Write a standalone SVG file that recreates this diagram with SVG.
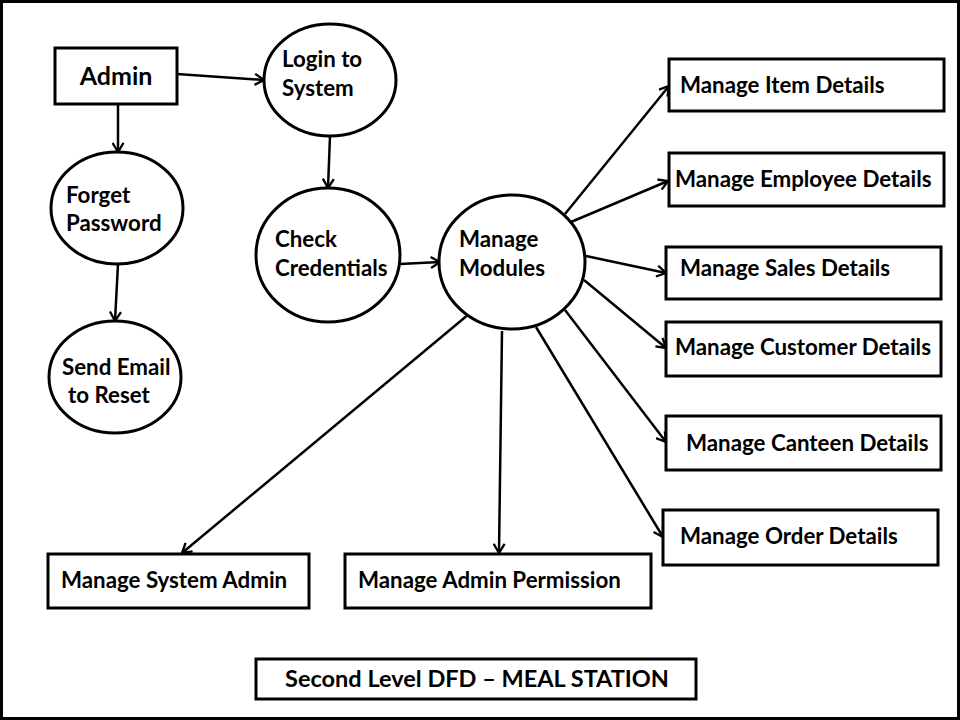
<svg xmlns="http://www.w3.org/2000/svg" width="960" height="720" viewBox="0 0 960 720">
<style>
  .shape { fill: #fff; stroke: #000; stroke-width: 3; }
  .conn line { stroke: #000; stroke-width: 2.5; marker-end: url(#arr); }
  text { font-family: Lato, "Open Sans", "Liberation Sans", sans-serif; font-weight: bold; font-size: 22.3px; fill: #000; }
  text.big { font-size: 25px; }
  text.ttl { font-size: 23.5px; }
</style>
<defs>
  <marker id="arr" viewBox="0 0 12 14" refX="11" refY="7" markerWidth="11" markerHeight="13" orient="auto" markerUnits="userSpaceOnUse">
    <path d="M1,1 L11,7 L1,13" fill="none" stroke="#000" stroke-width="2.5" stroke-linejoin="miter"/>
  </marker>
</defs>
<rect x="0" y="0" width="960" height="720" fill="#fff"/>
<rect x="1.5" y="1.5" width="957" height="717" fill="none" stroke="#000" stroke-width="3"/>

<g id="connectors" class="conn">
  <line x1="177" y1="74" x2="264" y2="80"/>
  <line x1="118" y1="104" x2="118" y2="152"/>
  <line x1="118" y1="264" x2="115" y2="321"/>
  <line x1="330" y1="136" x2="328" y2="188"/>
  <line x1="400" y1="264" x2="440" y2="262"/>
  <line x1="565" y1="214" x2="669" y2="86"/>
  <line x1="571" y1="222" x2="668" y2="181"/>
  <line x1="586" y1="256" x2="666" y2="273"/>
  <line x1="584" y1="280" x2="666" y2="348"/>
  <line x1="565" y1="310" x2="666" y2="442"/>
  <line x1="536" y1="327" x2="663" y2="537"/>
  <line x1="469" y1="314" x2="182" y2="553"/>
  <line x1="502" y1="331" x2="499" y2="553"/>
</g>

<g id="admin">
  <rect class="shape" x="55" y="48" width="122" height="56"/>
  <text class="big" x="116" y="85" text-anchor="middle">Admin</text>
</g>
<g id="login">
  <ellipse class="shape" cx="330" cy="80" rx="66" ry="56"/>
  <text x="282" y="67">Login to</text>
  <text x="282" y="96">System</text>
</g>
<g id="forget">
  <ellipse class="shape" cx="117" cy="208" rx="66" ry="56"/>
  <text x="66" y="203">Forget</text>
  <text x="66" y="231">Password</text>
</g>
<g id="sendemail">
  <ellipse class="shape" cx="115" cy="377" rx="66" ry="56"/>
  <text x="62" y="375">Send Email</text>
  <text x="68" y="403">to Reset</text>
</g>
<g id="check">
  <ellipse class="shape" cx="328" cy="255" rx="72" ry="67"/>
  <text x="275" y="247">Check</text>
  <text x="275" y="276">Credentials</text>
</g>
<g id="modules">
  <ellipse class="shape" cx="512" cy="262" rx="73" ry="67"/>
  <text x="459" y="247">Manage</text>
  <text x="459" y="276">Modules</text>
</g>
<g id="item">
  <rect class="shape" x="669" y="59" width="275" height="52"/>
  <text x="680" y="93">Manage Item Details</text>
</g>
<g id="employee">
  <rect class="shape" x="669" y="153" width="275" height="53"/>
  <text x="675" y="187">Manage Employee Details</text>
</g>
<g id="sales">
  <rect class="shape" x="666" y="247" width="275" height="52"/>
  <text x="680" y="276">Manage Sales Details</text>
</g>
<g id="customer">
  <rect class="shape" x="666" y="322" width="275" height="54"/>
  <text x="675" y="355">Manage Customer Details</text>
</g>
<g id="canteen">
  <rect class="shape" x="666" y="416" width="275" height="54"/>
  <text x="686" y="451">Manage Canteen Details</text>
</g>
<g id="order">
  <rect class="shape" x="663" y="510" width="275" height="55"/>
  <text x="680" y="544">Manage Order Details</text>
</g>
<g id="sysadmin">
  <rect class="shape" x="48" y="554" width="261" height="54"/>
  <text x="61" y="588">Manage System Admin</text>
</g>
<g id="permission">
  <rect class="shape" x="345" y="554" width="306" height="54"/>
  <text x="358" y="588">Manage Admin Permission</text>
</g>
<g id="title">
  <rect class="shape" x="256" y="659" width="440" height="40"/>
  <text class="ttl" x="477" y="687" text-anchor="middle">Second Level DFD – MEAL STATION</text>
</g>
</svg>
